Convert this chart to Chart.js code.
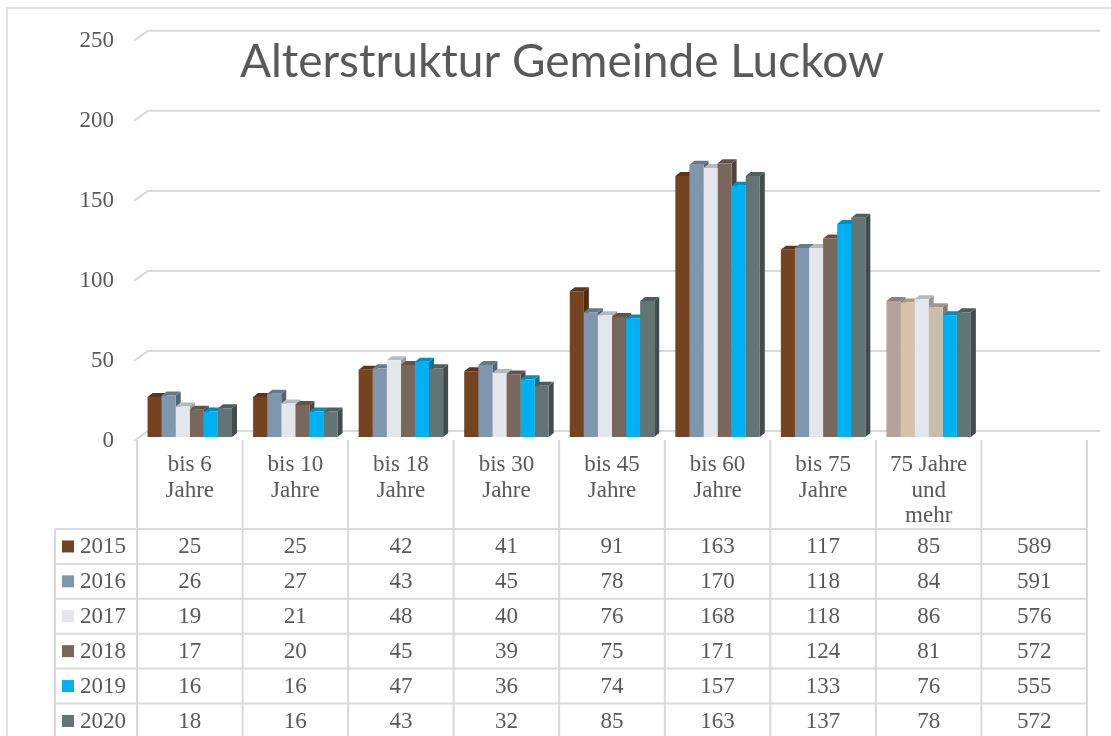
<!DOCTYPE html>
<html lang="de">
<head>
    <meta charset="UTF-8">
    <title>Alterstruktur Gemeinde Luckow</title>
    <script src="https://cdn.jsdelivr.net/npm/chart.js"></script>
    <style>
        html, body { margin: 0; padding: 0; background: #fff; }
        .chart-container { position: relative; width: 1111px; height: 736px; }
    </style>
</head>
<body>
    <div class="chart-container">
        <canvas id="ageChart" width="1111" height="736"></canvas>
    </div>
    <script>
        // categories (last column only holds the totals in the table)
        const categories = [
            ['bis 6', 'Jahre'], ['bis 10', 'Jahre'], ['bis 18', 'Jahre'], ['bis 30', 'Jahre'],
            ['bis 45', 'Jahre'], ['bis 60', 'Jahre'], ['bis 75', 'Jahre'], ['75 Jahre', 'und', 'mehr'], ['']
        ];
        const years = ['2015', '2016', '2017', '2018', '2019', '2020'];

        const values2015 = [25, 25, 42, 41, 91, 163, 117, 85];
        const values2016 = [26, 27, 43, 45, 78, 170, 118, 84];
        const values2017 = [19, 21, 48, 40, 76, 168, 118, 86];
        const values2018 = [17, 20, 45, 39, 75, 171, 124, 81];
        const values2019 = [16, 16, 47, 36, 74, 157, 133, 76];
        const values2020 = [18, 16, 43, 32, 85, 163, 137, 78];
        const totals = [589, 591, 576, 572, 555, 572];

        const yTicks = [0, 50, 100, 150, 200, 250];

        const seriesColors = ['#74431F', '#7F97AE', '#E3E7EC', '#7A675C', '#00B0F0', '#637474'];
        // the "75 Jahre und mehr" group is coloured differently
        const lastGroupColors = ['#B3A39B', '#D5C2A8', '#E3E7EC', '#C8BEA9', '#00B0F0', '#637474'];

        const allValues = [values2015, values2016, values2017, values2018, values2019, values2020];
        const textColor = '#595959';
        const lineColor = '#D9D9D9';
        const serif = '"Liberation Serif", "DejaVu Serif", serif';
        const DX = 5, DY = 4;

        function shade(hex, f) {
            const n = parseInt(hex.slice(1), 16);
            const r = Math.round(((n >> 16) & 255) * f);
            const g = Math.round(((n >> 8) & 255) * f);
            const b = Math.round((n & 255) * f);
            return 'rgb(' + r + ',' + g + ',' + b + ')';
        }

        const datasets = years.map((year, i) => ({
            label: year,
            data: allValues[i],
            backgroundColor: allValues[i].map((v, j) => j === 7 ? lastGroupColors[i] : seriesColors[i]),
            borderWidth: 0,
            categoryPercentage: 0.8,
            barPercentage: 1.0
        }));

        // back wall gridlines plus side / top faces of the columns
        const bar3d = {
            id: 'bar3d',
            beforeDatasetsDraw(chart) {
                const { ctx, chartArea } = chart;
                const y = chart.scales.y;
                ctx.save();
                ctx.strokeStyle = lineColor;
                ctx.lineWidth = 2;
                yTicks.forEach(v => {
                    const py = y.getPixelForValue(v);
                    ctx.beginPath();
                    ctx.moveTo(chartArea.left - 3, py + 4);
                    ctx.lineTo(chartArea.left + 11, py - 6);
                    ctx.lineTo(chartArea.right + 13, py - 6);
                    ctx.stroke();
                });
                chart.data.datasets.forEach((ds, i) => {
                    const meta = chart.getDatasetMeta(i);
                    meta.data.forEach((bar, j) => {
                        const p = bar.getProps(['x', 'y', 'base', 'width'], true);
                        const l = p.x - p.width / 2, r = p.x + p.width / 2;
                        const col = ds.backgroundColor[j];
                        ctx.fillStyle = shade(col, 0.66);
                        ctx.beginPath();
                        ctx.moveTo(r, p.y);
                        ctx.lineTo(r + DX, p.y - DY);
                        ctx.lineTo(r + DX, p.base - DY);
                        ctx.lineTo(r, p.base);
                        ctx.closePath();
                        ctx.fill();
                        ctx.fillStyle = shade(col, 0.8);
                        ctx.beginPath();
                        ctx.moveTo(l, p.y);
                        ctx.lineTo(l + DX, p.y - DY);
                        ctx.lineTo(r + DX, p.y - DY);
                        ctx.lineTo(r, p.y);
                        ctx.closePath();
                        ctx.fill();
                    });
                });
                ctx.restore();
            }
        };

        // title, frame and data table
        const dataTable = {
            id: 'dataTable',
            afterDraw(chart) {
                const { ctx, chartArea } = chart;
                const x = chart.scales.x;
                const catW = (chartArea.right - chartArea.left) / categories.length;
                const headTop = chartArea.bottom + 3;
                const rowTop = chartArea.bottom + 92;
                const rowH = 34.9;
                const legendLeft = 55;
                ctx.save();

                // outer frame
                ctx.strokeStyle = lineColor;
                ctx.lineWidth = 1.5;
                ctx.beginPath();
                ctx.moveTo(7, chart.height);
                ctx.lineTo(7, 8);
                ctx.lineTo(chart.width, 8);
                ctx.stroke();

                // title
                ctx.fillStyle = textColor;
                ctx.font = '46px Lato, "Open Sans", sans-serif';
                ctx.textAlign = 'center';
                ctx.textBaseline = 'middle';
                ctx.fillText('Alterstruktur Gemeinde Luckow', 562, 62);

                // table grid
                ctx.lineWidth = 2;
                for (let k = 0; k <= categories.length; k++) {
                    const gx = chartArea.left + k * catW;
                    ctx.beginPath();
                    ctx.moveTo(gx, headTop);
                    ctx.lineTo(gx, chart.height);
                    ctx.stroke();
                }
                ctx.beginPath();
                ctx.moveTo(legendLeft, rowTop);
                ctx.lineTo(legendLeft, chart.height);
                ctx.stroke();
                for (let r = 0; r < years.length; r++) {
                    const gy = rowTop + r * rowH;
                    ctx.beginPath();
                    ctx.moveTo(legendLeft, gy);
                    ctx.lineTo(chartArea.right, gy);
                    ctx.stroke();
                }

                // category labels
                ctx.font = '23px ' + serif;
                ctx.fillStyle = textColor;
                categories.forEach((lines, j) => {
                    const cx = x.getPixelForValue(j);
                    lines.forEach((t, k) => {
                        ctx.fillText(t, cx, chartArea.bottom + 28 + k * 25.5);
                    });
                });

                // legend keys and values
                years.forEach((year, r) => {
                    const cy = rowTop + r * rowH + rowH / 2;
                    ctx.fillStyle = seriesColors[r];
                    ctx.fillRect(62, cy - 6, 12, 12);
                    ctx.fillStyle = textColor;
                    ctx.textAlign = 'left';
                    ctx.fillText(year, 80, cy + 1);
                    ctx.textAlign = 'center';
                    allValues[r].forEach((v, j) => {
                        ctx.fillText(String(v), x.getPixelForValue(j), cy + 1);
                    });
                    ctx.fillText(String(totals[r]), x.getPixelForValue(8), cy + 1);
                });
                ctx.restore();
            }
        };

        new Chart(document.getElementById('ageChart').getContext('2d'), {
            type: 'bar',
            data: {
                labels: categories.map(c => c.join(' ')),
                datasets: datasets
            },
            options: {
                responsive: false,
                animation: false,
                layout: { padding: { left: 0, right: 24, top: 34, bottom: 299 } },
                scales: {
                    x: { display: false },
                    y: {
                        min: 0,
                        max: 250,
                        ticks: {
                            stepSize: 50,
                            padding: 23,
                            labelOffset: 4,
                            color: textColor,
                            font: { family: serif, size: 23 }
                        },
                        grid: { display: false, drawTicks: false },
                        border: { display: false },
                        afterFit(scale) { scale.width = 137; }
                    }
                },
                plugins: {
                    legend: { display: false },
                    tooltip: { enabled: false }
                }
            },
            plugins: [bar3d, dataTable]
        });
    </script>
</body>
</html>
